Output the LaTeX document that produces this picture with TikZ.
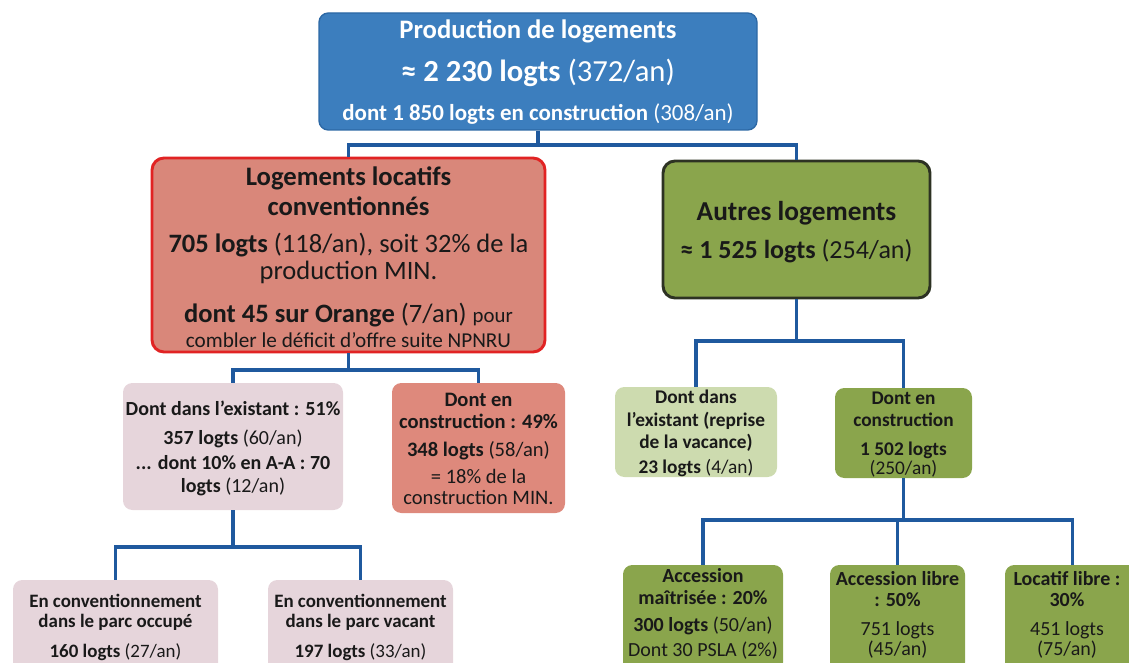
\documentclass[tikz,border=0pt]{standalone}
\usepackage{fontspec}
\setmainfont{Carlito}
\definecolor{topblue}{RGB}{60,126,190}
\definecolor{topborder}{RGB}{44,104,165}
\definecolor{redfill}{RGB}{217,135,122}
\definecolor{redborder}{RGB}{225,35,35}
\definecolor{greenfill}{RGB}{138,165,76}
\definecolor{greenborder}{RGB}{45,50,35}
\definecolor{pinkfill}{RGB}{230,213,219}
\definecolor{salmonfill}{RGB}{222,137,124}
\definecolor{lgreenfill}{RGB}{205,219,175}
\definecolor{linecol}{RGB}{31,89,158}
\definecolor{txtcol}{RGB}{25,25,25}
\tikzset{
  box/.style={rounded corners=7pt, inner sep=0pt},
  conn/.style={draw=linecol, line width=2.6pt, line join=miter},
  txt/.style={anchor=mid, inner sep=0pt, text=txtcol},
}
\newcommand\tl[5]{\node[txt, font=\fontsize{#4}{#4}\selectfont] (#1) at (#2,#3) {#5};}
\newcommand\wl[5]{\node[txt, text=white, font=\fontsize{#4}{#4}\selectfont] (#1) at (#2,#3) {#5};}
\begin{document}
\begin{tikzpicture}[x=0.75pt,y=-0.75pt]
\useasboundingbox (0,0) rectangle (1129,663);
\clip (0,0) rectangle (1129,663);
% boxes
\node[box, fill=topblue, draw=topborder, line width=1pt, minimum width=438*0.75pt, minimum height=117*0.75pt] (top) at (538,71.5) {};
\node[box, rounded corners=9pt, fill=redfill, draw=redborder, line width=2.2pt, minimum width=393*0.75pt, minimum height=194*0.75pt] (red) at (348.5,255) {};
\node[box, rounded corners=9pt, fill=greenfill, draw=greenborder, line width=2.2pt, minimum width=267*0.75pt, minimum height=137*0.75pt] (green) at (796.5,229.5) {};
\node[box, fill=pinkfill, minimum width=220*0.75pt, minimum height=127*0.75pt] (mida) at (233,446.5) {};
\node[box, fill=salmonfill, minimum width=173*0.75pt, minimum height=130*0.75pt] (midb) at (478.5,448) {};
\node[box, fill=lgreenfill, minimum width=162*0.75pt, minimum height=90*0.75pt] (midc) at (696,432) {};
\node[box, fill=greenfill, minimum width=137*0.75pt, minimum height=90*0.75pt] (midd) at (903.5,433) {};
\node[box, fill=pinkfill, minimum width=205*0.75pt, minimum height=95*0.75pt] (bota) at (115.5,627.5) {};
\node[box, fill=pinkfill, minimum width=185*0.75pt, minimum height=95*0.75pt] (botb) at (360.5,627.5) {};
\node[box, fill=greenfill, minimum width=160*0.75pt, minimum height=107*0.75pt] (botc) at (703,618.5) {};
\node[box, fill=greenfill, minimum width=135*0.75pt, minimum height=107*0.75pt] (botd) at (897.5,618.5) {};
\node[box, fill=greenfill, minimum width=135*0.75pt, minimum height=107*0.75pt] (bote) at (1072.5,618.5) {};
% connectors
\coordinate (bus1) at (538,145);
\coordinate (bus2) at (348.5,370);
\coordinate (bus3) at (796.5,341);
\coordinate (bus4) at (233,547);
\coordinate (bus5) at (903.5,520);
\draw[conn] (top.south) -- (bus1);
\draw[conn] (red.north) -- (red.north |- bus1) -- (green.north |- bus1) -- (green.north);
\draw[conn] (red.south) -- (bus2);
\draw[conn] (mida.north) -- (mida.north |- bus2) -- (midb.north |- bus2) -- (midb.north);
\draw[conn] (green.south) -- (bus3);
\draw[conn] (midc.north) -- (midc.north |- bus3) -- (midd.north |- bus3) -- (midd.north);
\draw[conn] (mida.south) -- (bus4);
\draw[conn] (bota.north) -- (bota.north |- bus4) -- (botb.north |- bus4) -- (botb.north);
\draw[conn] (midd.south) -- (bus5);
\draw[conn] (botc.north) -- (botc.north |- bus5) -- (bote.north |- bus5) -- (bote.north);
\draw[conn] (botd.north) -- (botd.north |- bus5);
% texts: top
\wl{t1}{538}{35}{20}{\bfseries Production de logements}
\wl{t2}{538}{78}{23}{\bfseries ≈ 2 230 logts \mdseries(372/an)}
\wl{t3}{538}{117}{17.2}{\bfseries dont 1 850 logts en construction \mdseries(308/an)}
% red
\tl{r1}{348.5}{182}{20}{\bfseries Logements locatifs}
\tl{r2}{348.5}{212}{20}{\bfseries conventionnés}
\tl{r3}{348.5}{249}{19.9}{\bfseries 705 logts \mdseries(118/an), soit 32\% de la}
\tl{r4}{348.5}{276}{19.9}{production MIN.}
\tl{r5}{348.5}{319}{19.9}{\bfseries dont 45 sur Orange \mdseries(7/an) {\fontsize{15.6}{15.6}\selectfont pour}}
\tl{r6}{348.5}{344}{15.9}{combler le déficit d’offre suite NPNRU}
% green
\tl{g1}{796.5}{217}{20.5}{\bfseries Autres logements}
\tl{g2}{796.5}{255}{19.5}{\bfseries ≈ 1 525 logts \mdseries(254/an)}
% mida
\tl{a1}{233}{412}{15}{\bfseries Dont dans l’existant : 51\%}
\tl{a2}{233}{441}{15}{\bfseries 357 logts \mdseries(60/an)}
\tl{a3}{233}{466}{15}{\bfseries ... dont 10\% en A-A : 70}
\tl{a4}{233}{489}{15}{\bfseries logts \mdseries(12/an)}
% midb
\tl{b1}{478.5}{403}{15.4}{\bfseries Dont en}
\tl{b2}{478.5}{425}{15.4}{\bfseries construction : 49\%}
\tl{b3}{478.5}{453}{15.4}{\bfseries 348 logts \mdseries(58/an)}
\tl{b4}{478.5}{480}{15.4}{= 18\% de la}
\tl{b5}{478.5}{501}{15.4}{construction MIN.}
% midc
\tl{c1}{696}{400}{14.5}{\bfseries Dont dans}
\tl{c2}{696}{423}{14.5}{\bfseries l’existant (reprise}
\tl{c3}{696}{445}{14.5}{\bfseries de la vacance)}
\tl{c4}{696}{470}{14.5}{\bfseries 23 logts \mdseries(4/an)}
% midd
\tl{d1}{903.5}{401}{14.5}{\bfseries Dont en}
\tl{d2}{903.5}{423}{14.5}{\bfseries construction}
\tl{d3}{903.5}{452}{14.5}{\bfseries 1 502 logts}
\tl{d4}{903.5}{471}{14.5}{(250/an)}
% bota, botb
\tl{e1}{115.5}{604}{14.2}{\bfseries En conventionnement}
\tl{e2}{115.5}{624}{14.2}{\bfseries dans le parc occupé}
\tl{e3}{115.5}{654}{14.2}{\bfseries 160 logts \mdseries(27/an)}
\tl{f1}{360.5}{604}{14.2}{\bfseries En conventionnement}
\tl{f2}{360.5}{624}{14.2}{\bfseries dans le parc vacant}
\tl{f3}{360.5}{654}{14.2}{\bfseries 197 logts \mdseries(33/an)}
% botc, botd, bote
\tl{h1}{703}{579}{15}{\bfseries Accession}
\tl{h2}{703}{601}{15}{\bfseries maîtrisée : 20\%}
\tl{h3}{703}{628}{15}{\bfseries 300 logts \mdseries(50/an)}
\tl{h4}{703}{653}{15}{Dont 30 PSLA (2\%)}
\tl{i1}{897.5}{582}{15}{\bfseries Accession libre}
\tl{i2}{897.5}{603}{15}{\bfseries : 50\%}
\tl{i3}{897.5}{632}{15}{751 logts}
\tl{i4}{897.5}{652}{15}{(45/an)}
\tl{j1}{1067}{582}{15}{\bfseries Locatif libre :}
\tl{j2}{1067}{603}{15}{\bfseries 30\%}
\tl{j3}{1067}{632}{15}{451 logts}
\tl{j4}{1067}{652}{15}{(75/an)}
\end{tikzpicture}
\end{document}
